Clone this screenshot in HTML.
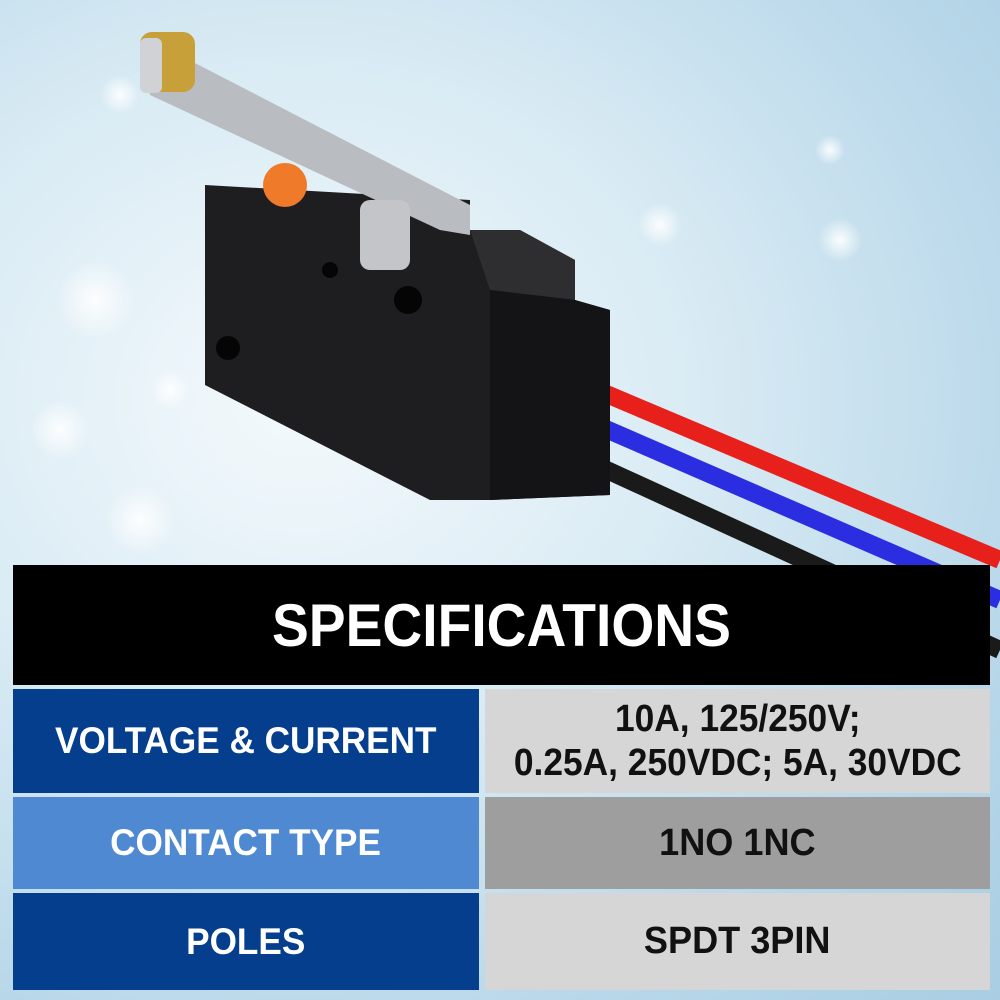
<!DOCTYPE html>
<html><head><meta charset="utf-8"><style>
*{margin:0;padding:0;box-sizing:border-box}
body{width:1000px;height:1000px;overflow:hidden;position:relative;font-family:"Liberation Sans",sans-serif;
background:radial-gradient(ellipse at 30% 40%,#f4f9fc 0%,#d9ebf4 40%,#b9d8ea 75%,#a9cde3 100%)}
.c{position:absolute;display:flex;align-items:center;justify-content:center;text-align:center;font-weight:bold}
.c span{display:inline-block;transform:scaleX(.95);white-space:nowrap}
</style></head><body>
<svg width="1000" height="1000" style="position:absolute;left:0;top:0">
<defs><radialGradient id="b"><stop offset="0" stop-color="#fff" stop-opacity=".9"/><stop offset="1" stop-color="#fff" stop-opacity="0"/></radialGradient></defs>
<circle cx="95" cy="300" r="40" fill="url(#b)"/><circle cx="120" cy="95" r="20" fill="url(#b)"/>
<circle cx="660" cy="225" r="22" fill="url(#b)"/><circle cx="840" cy="240" r="22" fill="url(#b)"/>
<circle cx="830" cy="150" r="15" fill="url(#b)"/><circle cx="170" cy="390" r="20" fill="url(#b)"/>
<circle cx="60" cy="430" r="30" fill="url(#b)"/><circle cx="140" cy="520" r="35" fill="url(#b)"/>
<path d="M585 385 L1000 560" stroke="#e8201c" stroke-width="18" fill="none"/>
<path d="M585 420 L1000 600" stroke="#2a2ee0" stroke-width="18" fill="none"/>
<path d="M585 460 L1000 650" stroke="#1a1a1a" stroke-width="18" fill="none"/>
<polygon points="205,185 470,200 470,230 520,230 575,260 575,300 610,310 610,495 490,500 430,500 205,385" fill="#1e1e20"/>
<polygon points="470,230 520,230 575,260 575,300 490,290" fill="#2e2e30"/>
<polygon points="490,290 575,300 610,310 610,495 490,500" fill="#141416"/>
<circle cx="228" cy="348" r="12" fill="#050505"/><circle cx="408" cy="300" r="14" fill="#050505"/>
<circle cx="330" cy="270" r="8" fill="#050505"/>
<polygon points="140,60 160,45 470,205 470,235 440,230 150,95" fill="#b9bcc0"/>
<rect x="360" y="200" width="50" height="70" rx="10" fill="#c3c5c8"/>
<circle cx="285" cy="185" r="22" fill="#ef7a2a"/>
<rect x="140" y="32" width="55" height="60" rx="12" fill="#c7a03a"/>
<rect x="140" y="38" width="22" height="55" rx="6" fill="#d0d2d5"/>
</svg>
<div style="position:absolute;left:13px;top:565px;width:977px;height:120px;background:#000"></div>
<div class="c" style="left:13px;top:565px;width:977px;height:120px;color:#fff;font-size:60px"><span style="transform:scaleX(.92)">SPECIFICATIONS</span></div>
<div class="c" style="left:13px;top:689px;width:466px;height:104px;background:#053e8c;color:#fff;font-size:37px"><span>VOLTAGE &amp; CURRENT</span></div>
<div class="c" style="left:485px;top:689px;width:505px;height:104px;background:#d6d6d6;color:#111;font-size:38px;line-height:44px"><span style="transform:scaleX(.93)">10A, 125/250V;<br>0.25A, 250VDC; 5A, 30VDC</span></div>
<div class="c" style="left:13px;top:797px;width:466px;height:92px;background:#4e89d2;color:#fff;font-size:37px"><span>CONTACT TYPE</span></div>
<div class="c" style="left:485px;top:797px;width:505px;height:92px;background:#9e9e9e;color:#111;font-size:38px"><span>1NO 1NC</span></div>
<div class="c" style="left:13px;top:893px;width:466px;height:97px;background:#053e8c;color:#fff;font-size:37px"><span>POLES</span></div>
<div class="c" style="left:485px;top:893px;width:505px;height:97px;background:#d6d6d6;color:#111;font-size:38px"><span>SPDT 3PIN</span></div>
</body></html>
